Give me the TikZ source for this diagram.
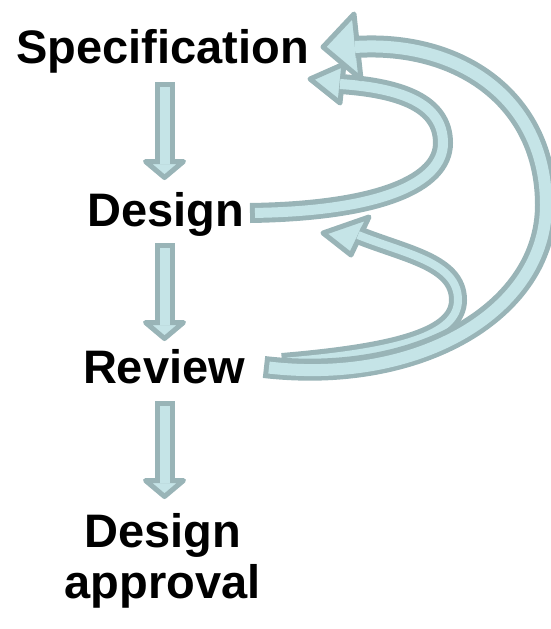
\documentclass[tikz,border=0pt]{standalone}
\usepackage{fontspec}
\setmainfont{Liberation Sans}
\usetikzlibrary{calc}

\definecolor{arrowline}{RGB}{153,180,183}
\definecolor{arrowfill}{RGB}{197,228,231}

\tikzset{
  stage/.style={font=\fontsize{47}{51}\selectfont\bfseries, inner sep=0pt, anchor=base},
  bandout/.style={draw=arrowline, line cap=butt},
  bandin/.style={draw=arrowfill, line cap=butt, shorten <=5pt},
  blockhead/.style={draw=arrowline, fill=arrowfill, line width=5pt, line join=round},
  pics/drop/.style={code={
    \draw[blockhead] (-19,-79.5) -- (19,-79.5) -- (0,-95.5) -- cycle;
    \draw[bandout, line width=20pt] (0,0) -- (0,-82);
    \draw[bandin, line width=10pt] (0,0) -- (0,-82);
  }},
}

% thick band: gray edge first, then the light core on top
\newcommand{\band}[3]{%
  \draw[bandout, line width=#1] #3;
  \draw[bandin, line width=#2] #3;
}

\begin{document}
\begin{tikzpicture}[x=1pt,y=1pt,yscale=-1]
\useasboundingbox (0,0) rectangle (550,629);

% Text Node
\node[stage] (spec) at (162.5,63) {Specification};
% Text Node
\node[stage] (des) at (165.5,226) {Design};
% Text Node
\node[stage] (rev) at (164,383) {Review};
% Text Node
\node[stage, align=center] (appr) at (162.5,598) {Design\\approval};

% ends of the feedback loops
\coordinate (desB) at (250,213);
\coordinate (revC) at (282,362);
\coordinate (revA) at (264,367);
\coordinate (tipB) at (310,79);
\coordinate (tipC) at (323,233);
\coordinate (tipA) at (323,47);

% straight steps down the column
\coordinate (d1) at (164.5,82);
\coordinate (d2) at (164.5,243);
\coordinate (d3) at (164.5,401);
\pic at (d1) {drop};
\pic at (d2) {drop};
\pic at (d3) {drop};

%Shape: Curved Arrow, design back to specification
\draw[blockhead] (tipB) -- (344,64) -- (340,103) -- cycle;
\band{20pt}{10pt}{(desB) .. controls (380,211) and (443,183) .. (443,143) .. controls (443,103) and (400,88) .. (340,84)}

%Shape: Curved Arrow, review back to design
\draw[blockhead] (tipC) -- (369,217) -- (351,255) -- cycle;
\band{18pt}{8pt}{(revC) .. controls (400,352) and (458,335) .. (458,300) .. controls (458,262) and (405,254) .. (358,235)}

%Shape: Curved Arrow, review back to specification
\draw[blockhead] (tipA) -- (354,14) -- (361,79) -- cycle;
\band{22pt}{12pt}{(revA) .. controls (420,385) and (546,310) .. (546,205) .. controls (546,100) and (460,40) .. (355,47)}

\end{tikzpicture}
\end{document}
